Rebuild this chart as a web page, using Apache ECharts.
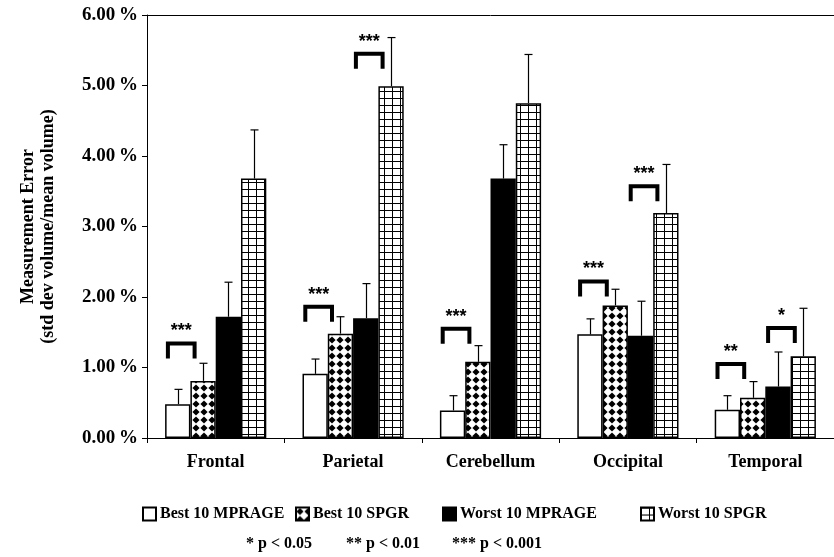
<!DOCTYPE html>
<html>
<head>
<meta charset="utf-8">
<script src="https://cdn.jsdelivr.net/npm/echarts@6/dist/echarts.min.js"></script>
<style>html,body{margin:0;padding:0;background:#fff}#c{width:834px;height:557px}</style>
</head>
<body>
<div id="c"></div>
<script>
// ---- data ----
const categories = ['Frontal', 'Parietal', 'Cerebellum', 'Occipital', 'Temporal'];
const seriesNames = ['Best 10 MPRAGE', 'Best 10 SPGR', 'Worst 10 MPRAGE', 'Worst 10 SPGR'];
const best10MPRAGE = [0.48, 0.91, 0.39, 1.47, 0.40];
const best10SPGR   = [0.81, 1.48, 1.08, 1.88, 0.57];
const worst10MPRAGE= [1.72, 1.70, 3.68, 1.45, 0.73];
const worst10SPGR  = [3.68, 4.99, 4.75, 3.19, 1.16];
const best10MPRAGEErr = [0.69, 1.12, 0.60, 1.69, 0.60];
const best10SPGRErr   = [1.06, 1.72, 1.31, 2.11, 0.80];
const worst10MPRAGEErr= [2.21, 2.19, 4.16, 1.94, 1.22];
const worst10SPGRErr  = [4.37, 5.68, 5.44, 3.88, 1.84];
// significance brackets: [categoryIndex, firstBarIndex, bracketLevel(%), stars]
const brackets = [
  [0, 0, 1.34, '***'],
  [1, 0, 1.86, '***'],
  [1, 2, 5.45, '***'],
  [2, 0, 1.55, '***'],
  [3, 0, 2.22, '***'],
  [3, 2, 3.57, '***'],
  [4, 0, 1.05, '**'],
  [4, 2, 1.56, '*']
];
const yTicks = [0, 1, 2, 3, 4, 5, 6];
const pLegend = ['* p < 0.05', '** p < 0.01', '*** p < 0.001'];

// ---- patterns ----
function diamondPattern(){
  const c=document.createElement('canvas'); c.width=8; c.height=8;
  const g=c.getContext('2d'); g.fillStyle='#fff'; g.fillRect(0,0,8,8);
  g.fillStyle='#000'; g.beginPath();
  g.moveTo(4,0.4); g.lineTo(7.6,4); g.lineTo(4,7.6); g.lineTo(0.4,4); g.closePath(); g.fill();
  return c;
}
function gridPattern(){
  const c=document.createElement('canvas'); c.width=8; c.height=7;
  const g=c.getContext('2d'); g.fillStyle='#fff'; g.fillRect(0,0,8,7);
  g.fillStyle='#000'; g.fillRect(0,0,8,1); g.fillRect(0,0,1,7);
  return c;
}
const fills = ['#ffffff', {image: diamondPattern(), repeat:'repeat'}, '#000000', {image: gridPattern(), repeat:'repeat'}];
const values = [best10MPRAGE, best10SPGR, worst10MPRAGE, worst10SPGR];
const errs = [best10MPRAGEErr, best10SPGRErr, worst10MPRAGEErr, worst10SPGRErr];

const FONT = "'Liberation Serif', 'Times New Roman', serif";
const BW = 25.3;

const errData = [];
values.forEach((arr, k) => arr.forEach((v, i) => errData.push([i, k, v, errs[k][i]])));

const series = values.map((arr, k) => ({
  name: seriesNames[k], type: 'bar', data: arr, barWidth: BW, barGap: '0%',
  itemStyle: {color: fills[k], borderColor: '#000', borderWidth: 1.5},
  emphasis: {disabled: true}, silent: true
}));
series.push({
  type: 'custom', data: errData, encode: {x: 0, y: 3}, silent: true, z: 5,
  renderItem: function(params, api){
    const cat = api.value(0), k = api.value(1);
    const top = api.coord([cat, api.value(3)]);
    const base = api.coord([cat, api.value(2)]);
    const x = Math.round(top[0] + (k - 1.5) * BW) + 0.5;
    const style = {stroke: '#000', lineWidth: 1.2};
    return {type: 'group', children: [
      {type: 'line', shape: {x1: x, y1: base[1], x2: x, y2: top[1]}, style: style},
      {type: 'line', shape: {x1: x - 4, y1: top[1], x2: x + 4, y2: top[1]}, style: style}
    ]};
  }
});
series.push({
  type: 'custom', data: brackets, encode: {x: 0, y: 2}, silent: true, z: 6,
  renderItem: function(params, api){
    const cat = api.value(0), k = api.value(1);
    const p = api.coord([cat, api.value(2)]);
    const left = p[0] - 2 * BW + k * BW;
    const x0 = left + 2.8, x1 = left + 29.5, y = p[1];
    return {type: 'group', children: [
      {type: 'polyline', shape: {points: [[x0, y + 15], [x0, y], [x1, y], [x1, y + 15]]},
       style: {stroke: '#000', lineWidth: 4, fill: null, lineJoin: 'miter', lineCap: 'butt'}},
      {type: 'text', style: {text: brackets[params.dataIndex][3], x: (x0 + x1) / 2, y: y - 3,
        align: 'center', verticalAlign: 'bottom', fill: '#000',
        font: "bold 18px 'Liberation Sans', Arial, sans-serif"}}
    ]};
  }
});

const legendLefts = [137, 290, 437, 635];
const legends = seriesNames.map((n, k) => ({
  data: [n], left: legendLefts[k], top: 501, itemWidth: 13, itemHeight: 13, icon: 'rect',
  selectedMode: false, textStyle: {fontFamily: FONT, fontWeight: 'bold', fontSize: 16, color: '#000', padding: [0,0,0,-1]}
}));

const chart = echarts.init(document.getElementById('c'), null, {renderer: 'canvas'});
chart.setOption({
  animation: false,
  backgroundColor: '#fff',
  grid: {left: 147, top: 15, right: -8, bottom: 119, containLabel: false},
  legend: legends,
  xAxis: [{
    type: 'category', data: categories,
    axisLine: {lineStyle: {color: '#000', width: 1}},
    axisTick: {show: true, length: 5, lineStyle: {color: '#000'}},
    axisLabel: {fontFamily: FONT, fontWeight: 'bold', fontSize: 18, color: '#000', margin: 15}
  }, {
    type: 'category', data: categories, position: 'top',
    axisLine: {show: true, lineStyle: {color: '#000', width: 1}},
    axisTick: {show: false}, axisLabel: {show: false}
  }],
  yAxis: {
    type: 'value', min: yTicks[0], max: yTicks[yTicks.length - 1], interval: 1,
    name: 'Measurement Error\n(std dev volume/mean volume)', nameLocation: 'middle', nameGap: 89,
    nameTextStyle: {fontFamily: FONT, fontWeight: 'bold', fontSize: 18, color: '#000', lineHeight: 20},
    axisLine: {show: true, lineStyle: {color: '#000', width: 1}},
    axisTick: {show: true, length: 5, lineStyle: {color: '#000'}},
    splitLine: {show: false},
    axisLabel: {fontFamily: FONT, fontWeight: 'bold', fontSize: 19, color: '#000', margin: 9,
      formatter: v => v.toFixed(2) + '\u2009%'}
  },
  series: series,
  graphic: pLegend.map((t, i) => ({
    type: 'text', left: [246, 346, 452][i], top: 536,
    style: {text: t, font: "bold 16px 'Liberation Serif', 'Times New Roman', serif", fill: '#000'}
  }))
});
</script>
</body>
</html>
